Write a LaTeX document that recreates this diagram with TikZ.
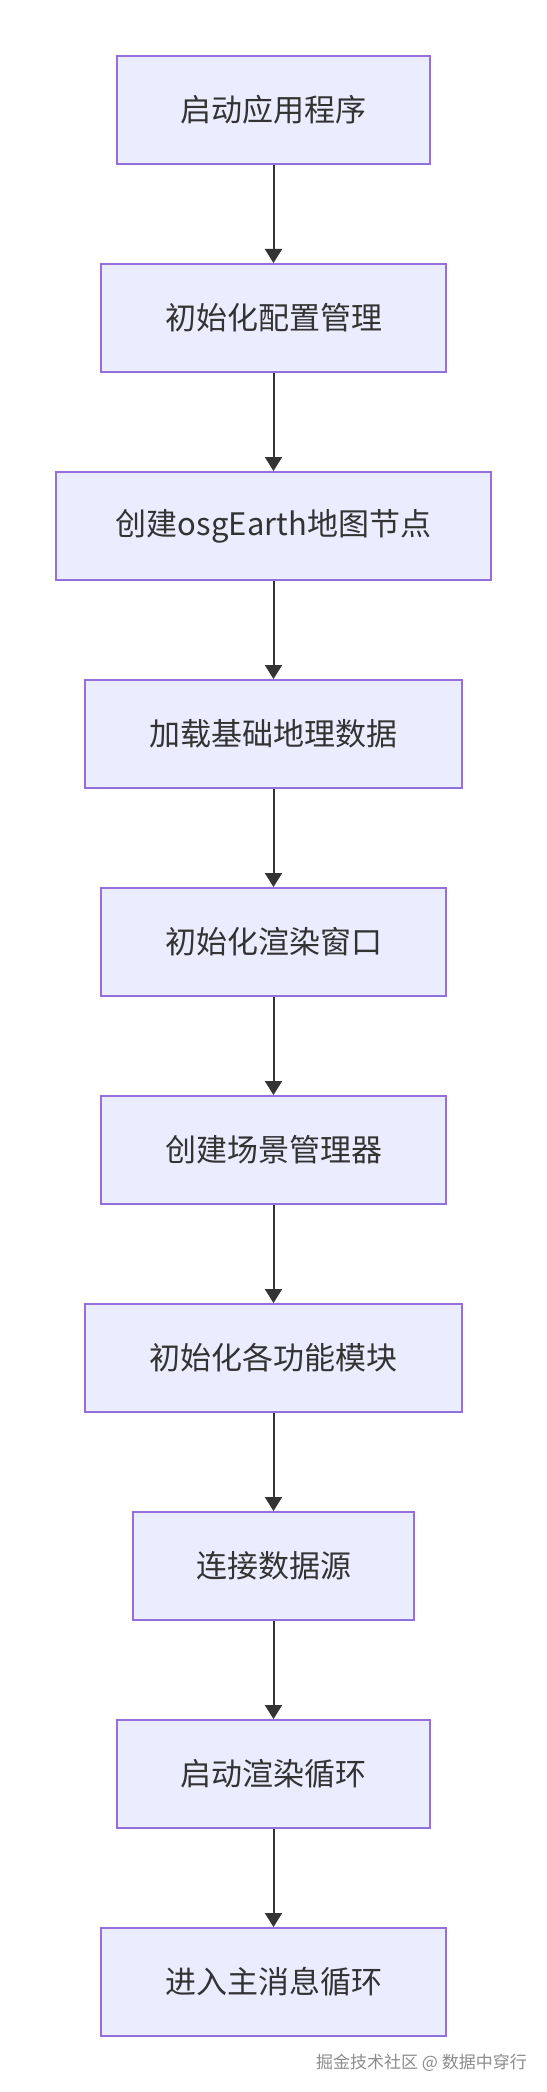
\documentclass[tikz,border=0pt]{standalone}
\usepackage{fontspec}
\newfontfamily\cjk{Noto Sans CJK SC}
\usetikzlibrary{arrows.meta}
\definecolor{boxfill}{HTML}{ECECFF}
\definecolor{boxline}{HTML}{9370DB}
\definecolor{arrowcol}{HTML}{333333}
\definecolor{wmcol}{HTML}{8C8C8C}
\tikzset{
  stepbox/.style={draw=boxline, fill=boxfill, line width=2pt, rectangle,
    minimum height=108pt, inner xsep=4pt, text=arrowcol,
    font=\cjk\fontsize{31}{36}\selectfont},
  flow/.style={draw=arrowcol, line width=2pt, -{Triangle[width=17pt,length=14pt]}},
  wm/.style={text=wmcol, font=\cjk\fontsize{17}{20}\selectfont, inner sep=0pt, anchor=east}
}
\begin{document}
\begin{tikzpicture}[x=1pt,y=1pt]
\useasboundingbox (0,0) rectangle (546,-2092);
\fill[white] (0,0) rectangle (546,-2092);
\node[stepbox, minimum width=313pt] (n1) at (273.5,-110) {启动应用程序};
\node[stepbox, minimum width=345pt] (n2) at (273.5,-318) {初始化配置管理};
\node[stepbox, minimum width=435pt] (n3) at (273.5,-526) {创建osgEarth地图节点};
\node[stepbox, minimum width=377pt] (n4) at (273.5,-734) {加载基础地理数据};
\node[stepbox, minimum width=345pt] (n5) at (273.5,-942) {初始化渲染窗口};
\node[stepbox, minimum width=345pt] (n6) at (273.5,-1150) {创建场景管理器};
\node[stepbox, minimum width=377pt] (n7) at (273.5,-1358) {初始化各功能模块};
\node[stepbox, minimum width=281pt] (n8) at (273.5,-1566) {连接数据源};
\node[stepbox, minimum width=313pt] (n9) at (273.5,-1774) {启动渲染循环};
\node[stepbox, minimum width=345pt] (n10) at (273.5,-1982) {进入主消息循环};
\foreach \a/\b in {n1/n2,n2/n3,n3/n4,n4/n5,n5/n6,n6/n7,n7/n8,n8/n9,n9/n10}
  \draw[flow] (\a.south) -- (\b.north);
\node[wm] (wm) at (527,-2063) {掘金技术社区 @ 数据中穿行};
\end{tikzpicture}
\end{document}
